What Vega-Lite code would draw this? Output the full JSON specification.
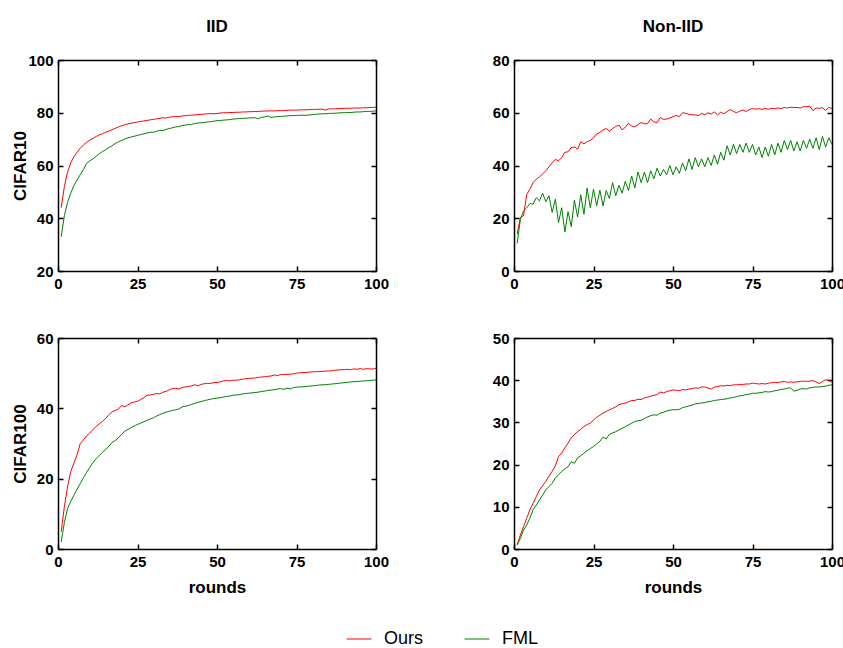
{
"$schema":"https://vega.github.io/schema/vega-lite/v6.json",
"padding":{"left":11,"top":18,"right":5,"bottom":5},
"data":{"values":[
{"r":1,"ao":44,"af":33,"bo":14,"bf":10.5,"co":4.9,"cf":2,"do":1,"df":1},
{"r":2,"ao":52,"af":41,"bo":20.3,"bf":19.6,"co":12,"cf":7.5,"do":3.3,"df":2.5},
{"r":3,"ao":57.5,"af":46,"bo":21,"bf":22.8,"co":17.7,"cf":11.5,"do":5.3,"df":4.5},
{"r":4,"ao":61,"af":49.5,"bo":29,"bf":24,"co":22,"cf":13.5,"do":7.3,"df":5.7},
{"r":5,"ao":63.3,"af":52.5,"bo":31,"bf":25.6,"co":24.4,"cf":15.3,"do":9.3,"df":7.3},
{"r":6,"ao":65,"af":54.5,"bo":33.5,"bf":25.3,"co":26.8,"cf":17,"do":10.8,"df":9.3},
{"r":7,"ao":66.5,"af":56.5,"bo":34.8,"bf":27.8,"co":30,"cf":18.6,"do":12.4,"df":10.4},
{"r":8,"ao":67.8,"af":58.5,"bo":35.7,"bf":26.6,"co":31,"cf":20.3,"do":14,"df":11.6},
{"r":9,"ao":68.8,"af":60.8,"bo":36.8,"bf":29.5,"co":32.2,"cf":21.8,"do":15,"df":12.8},
{"r":10,"ao":69.6,"af":61.8,"bo":38,"bf":26.3,"co":33,"cf":23.2,"do":16,"df":14},
{"r":11,"ao":70.3,"af":62.5,"bo":39.5,"bf":28.5,"co":34,"cf":24.6,"do":17.3,"df":14.8},
{"r":12,"ao":71,"af":63.5,"bo":41,"bf":22.2,"co":34.8,"cf":25.7,"do":18.4,"df":15.6},
{"r":13,"ao":71.6,"af":64.5,"bo":42.3,"bf":27.2,"co":35.6,"cf":26.6,"do":19.7,"df":16.8},
{"r":14,"ao":72.1,"af":65.3,"bo":41.8,"bf":18.4,"co":36.3,"cf":27.5,"do":21.9,"df":17.6},
{"r":15,"ao":72.6,"af":66,"bo":43,"bf":24,"co":37.1,"cf":28.3,"do":22.7,"df":18.4},
{"r":16,"ao":73.1,"af":66.8,"bo":45,"bf":14.8,"co":38.2,"cf":29.2,"do":24,"df":19},
{"r":17,"ao":73.6,"af":67.5,"bo":45.2,"bf":22.5,"co":39,"cf":30.3,"do":25.1,"df":19.5},
{"r":18,"ao":74.1,"af":68.3,"bo":46.8,"bf":16.8,"co":39.4,"cf":30.8,"do":26.3,"df":20.7},
{"r":19,"ao":74.6,"af":69,"bo":47,"bf":26.8,"co":39.8,"cf":31.6,"do":27.1,"df":20.3},
{"r":20,"ao":75.1,"af":69.5,"bo":46.2,"bf":20.5,"co":40.8,"cf":32.6,"do":27.8,"df":21.6},
{"r":21,"ao":75.4,"af":70,"bo":49,"bf":28.9,"co":40.4,"cf":33.5,"do":28.4,"df":22.1},
{"r":22,"ao":75.8,"af":70.5,"bo":48.2,"bf":21.5,"co":41,"cf":34,"do":29,"df":22.7},
{"r":23,"ao":76,"af":70.8,"bo":49,"bf":31.4,"co":41.6,"cf":34.5,"do":29.5,"df":23.3},
{"r":24,"ao":76.3,"af":71.1,"bo":49.5,"bf":24,"co":41.8,"cf":35,"do":29.8,"df":23.8},
{"r":25,"ao":76.5,"af":71.4,"bo":50.5,"bf":31,"co":42,"cf":35.4,"do":30.6,"df":24.3},
{"r":26,"ao":76.7,"af":71.7,"bo":52,"bf":24.7,"co":42.5,"cf":35.8,"do":31.2,"df":24.9},
{"r":27,"ao":76.9,"af":72,"bo":52.5,"bf":30.6,"co":43,"cf":36.2,"do":31.7,"df":25.5},
{"r":28,"ao":77.1,"af":72.3,"bo":53.5,"bf":24.7,"co":43.7,"cf":36.6,"do":32.2,"df":26.5},
{"r":29,"ao":77.3,"af":72.6,"bo":54,"bf":30.5,"co":43.8,"cf":37,"do":32.6,"df":26.1},
{"r":30,"ao":77.5,"af":72.6,"bo":53,"bf":27.5,"co":44,"cf":37.3,"do":33,"df":27.2},
{"r":31,"ao":77.7,"af":73,"bo":54,"bf":33.5,"co":44.2,"cf":37.8,"do":33.3,"df":27.5},
{"r":32,"ao":77.9,"af":73.3,"bo":54.8,"bf":28.5,"co":44.1,"cf":38.2,"do":33.7,"df":27.8},
{"r":33,"ao":78.1,"af":73.2,"bo":55.3,"bf":32.5,"co":44.6,"cf":38.6,"do":34.2,"df":28.2},
{"r":34,"ao":78,"af":73.7,"bo":53.5,"bf":29.5,"co":44.8,"cf":38.9,"do":34.4,"df":28.6},
{"r":35,"ao":78.3,"af":74,"bo":54.5,"bf":34,"co":45.3,"cf":39.2,"do":34.6,"df":29},
{"r":36,"ao":78.5,"af":74.3,"bo":56,"bf":30.5,"co":45.6,"cf":39.4,"do":34.9,"df":29.4},
{"r":37,"ao":78.6,"af":74.6,"bo":55,"bf":36,"co":45.7,"cf":39.6,"do":35.2,"df":29.8},
{"r":38,"ao":78.5,"af":74.8,"bo":54.7,"bf":31.5,"co":45.5,"cf":39.8,"do":35.2,"df":30.2},
{"r":39,"ao":78.8,"af":75.1,"bo":55.5,"bf":37.5,"co":45.9,"cf":40.4,"do":35.5,"df":30.4},
{"r":40,"ao":78.9,"af":75.3,"bo":56.3,"bf":33.5,"co":46.1,"cf":40.6,"do":35.4,"df":30.5},
{"r":41,"ao":79,"af":75.5,"bo":55.8,"bf":37.5,"co":46.2,"cf":40.8,"do":35.8,"df":30.9},
{"r":42,"ao":79.1,"af":75.6,"bo":55.9,"bf":33.5,"co":46.4,"cf":41.1,"do":36,"df":31.3},
{"r":43,"ao":79.2,"af":75.9,"bo":57.6,"bf":38,"co":46.7,"cf":41.4,"do":36.2,"df":31.6},
{"r":44,"ao":79.3,"af":76.1,"bo":56.5,"bf":35,"co":46.4,"cf":41.7,"do":36.4,"df":31.8},
{"r":45,"ao":79.4,"af":76.2,"bo":56.3,"bf":39,"co":46.8,"cf":41.9,"do":36.6,"df":31.7},
{"r":46,"ao":79.5,"af":76.3,"bo":58.2,"bf":36,"co":47,"cf":42.2,"do":37.2,"df":32.2},
{"r":47,"ao":79.6,"af":76.5,"bo":57.5,"bf":38.5,"co":47.1,"cf":42.4,"do":37,"df":32.4},
{"r":48,"ao":79.7,"af":76.6,"bo":57.6,"bf":36.5,"co":47.1,"cf":42.6,"do":37.3,"df":32.7},
{"r":49,"ao":79.6,"af":76.8,"bo":58,"bf":40,"co":47.3,"cf":42.8,"do":37.5,"df":32.9},
{"r":50,"ao":79.7,"af":77,"bo":58.5,"bf":36.5,"co":47.4,"cf":42.9,"do":37.7,"df":33},
{"r":51,"ao":79.9,"af":77,"bo":59,"bf":39.5,"co":47.5,"cf":43,"do":37.6,"df":33},
{"r":52,"ao":80,"af":77.2,"bo":58.5,"bf":37,"co":47.8,"cf":43.2,"do":37.5,"df":33.1},
{"r":53,"ao":80,"af":77.3,"bo":60,"bf":41,"co":47.9,"cf":43.4,"do":37.8,"df":33.5},
{"r":54,"ao":80.1,"af":77.4,"bo":59.8,"bf":38,"co":47.8,"cf":43.5,"do":37.7,"df":33.7},
{"r":55,"ao":80.1,"af":77.6,"bo":59.4,"bf":42.5,"co":48,"cf":43.7,"do":37.9,"df":33.9},
{"r":56,"ao":80.2,"af":77.7,"bo":59.2,"bf":38.5,"co":48,"cf":43.8,"do":38,"df":34.1},
{"r":57,"ao":80.2,"af":77.8,"bo":59.2,"bf":43,"co":48.1,"cf":43.9,"do":38.2,"df":34.4},
{"r":58,"ao":80.3,"af":77.9,"bo":58.9,"bf":39.5,"co":48.3,"cf":44.1,"do":38.1,"df":34.5},
{"r":59,"ao":80.3,"af":77.9,"bo":59.8,"bf":42.5,"co":48.4,"cf":44.2,"do":38.4,"df":34.6},
{"r":60,"ao":80.4,"af":78,"bo":59.2,"bf":39.5,"co":48.5,"cf":44.3,"do":38.4,"df":34.7},
{"r":61,"ao":80.4,"af":78.1,"bo":60,"bf":43,"co":48.6,"cf":44.4,"do":38.1,"df":34.9},
{"r":62,"ao":80.5,"af":78.1,"bo":59.5,"bf":40,"co":48.6,"cf":44.5,"do":37.9,"df":35},
{"r":63,"ao":80.5,"af":77.7,"bo":60.3,"bf":44,"co":48.8,"cf":44.6,"do":38.4,"df":35.2},
{"r":64,"ao":80.6,"af":78.3,"bo":59.2,"bf":40.5,"co":48.9,"cf":44.8,"do":38.5,"df":35.3},
{"r":65,"ao":80.6,"af":78.4,"bo":60.2,"bf":45,"co":49,"cf":44.9,"do":38.7,"df":35.4},
{"r":66,"ao":80.7,"af":78.8,"bo":59.6,"bf":42,"co":49.1,"cf":45.1,"do":38.6,"df":35.5},
{"r":67,"ao":80.7,"af":78.2,"bo":60.4,"bf":47.5,"co":49.2,"cf":45.2,"do":38.8,"df":35.6},
{"r":68,"ao":80.7,"af":78.4,"bo":61.2,"bf":44,"co":49.5,"cf":45.3,"do":38.7,"df":35.8},
{"r":69,"ao":80.8,"af":78.6,"bo":60.5,"bf":48,"co":49.3,"cf":45.5,"do":38.9,"df":35.9},
{"r":70,"ao":80.8,"af":78.6,"bo":60,"bf":44.5,"co":49.6,"cf":45.6,"do":38.9,"df":36.1},
{"r":71,"ao":80.8,"af":78.7,"bo":60.6,"bf":48,"co":49.6,"cf":45.4,"do":39,"df":36.3},
{"r":72,"ao":80.9,"af":78.8,"bo":61,"bf":45,"co":49.7,"cf":45.7,"do":39,"df":36.4},
{"r":73,"ao":81,"af":78.9,"bo":60.5,"bf":48.5,"co":49.7,"cf":45.5,"do":39.1,"df":36.6},
{"r":74,"ao":81,"af":78.9,"bo":61.2,"bf":45,"co":49.8,"cf":45.9,"do":39.1,"df":36.7},
{"r":75,"ao":81,"af":79,"bo":61.6,"bf":48,"co":50,"cf":46,"do":39.3,"df":36.9},
{"r":76,"ao":81.1,"af":79,"bo":61.4,"bf":44,"co":50.1,"cf":46.1,"do":39.2,"df":36.9},
{"r":77,"ao":81.1,"af":79.1,"bo":61.5,"bf":47,"co":50.2,"cf":46.1,"do":39.1,"df":37},
{"r":78,"ao":81.1,"af":79,"bo":61.3,"bf":43,"co":50.2,"cf":46.2,"do":39.2,"df":37.1},
{"r":79,"ao":81.2,"af":79.2,"bo":61.6,"bf":47,"co":50.3,"cf":46.3,"do":39.1,"df":37.3},
{"r":80,"ao":81.2,"af":79.3,"bo":61.3,"bf":43.5,"co":50.4,"cf":46.4,"do":39.3,"df":37.2},
{"r":81,"ao":81.3,"af":79.4,"bo":61.7,"bf":48,"co":50.4,"cf":46.5,"do":39.4,"df":37.3},
{"r":82,"ao":81.3,"af":79.5,"bo":61.5,"bf":44,"co":50.5,"cf":46.6,"do":39.5,"df":37.5},
{"r":83,"ao":81.4,"af":79.6,"bo":61.8,"bf":48.5,"co":50.5,"cf":46.7,"do":39.4,"df":37.6},
{"r":84,"ao":81,"af":79.6,"bo":61.6,"bf":45,"co":50.6,"cf":46.7,"do":39.6,"df":37.8},
{"r":85,"ao":81.4,"af":79.7,"bo":62,"bf":49.5,"co":50.6,"cf":46.8,"do":39.7,"df":37.9},
{"r":86,"ao":81.5,"af":79.8,"bo":61.8,"bf":46,"co":50.7,"cf":46.9,"do":39.5,"df":38.1},
{"r":87,"ao":81.5,"af":79.8,"bo":62.1,"bf":49.5,"co":50.8,"cf":47,"do":39.6,"df":38.2},
{"r":88,"ao":81.6,"af":79.9,"bo":62,"bf":45.5,"co":50.9,"cf":47.1,"do":39.5,"df":37.4},
{"r":89,"ao":81.6,"af":80,"bo":62,"bf":49,"co":51,"cf":47.2,"do":39.6,"df":37.6},
{"r":90,"ao":81.7,"af":80,"bo":61.8,"bf":45.5,"co":51,"cf":47.3,"do":39.7,"df":37.9},
{"r":91,"ao":81.7,"af":80.1,"bo":62.3,"bf":49.5,"co":51.1,"cf":47.4,"do":39.8,"df":38},
{"r":92,"ao":81.7,"af":80.1,"bo":62.3,"bf":46.5,"co":51,"cf":47.5,"do":39.7,"df":37.9},
{"r":93,"ao":81.8,"af":80.2,"bo":62.5,"bf":50,"co":51.2,"cf":47.6,"do":39.8,"df":38.2},
{"r":94,"ao":81.8,"af":80.3,"bo":60.8,"bf":46.5,"co":51.1,"cf":47.6,"do":39.9,"df":38.3},
{"r":95,"ao":81.8,"af":80.3,"bo":61.8,"bf":50.5,"co":51.3,"cf":47.7,"do":39.6,"df":38.4},
{"r":96,"ao":81.9,"af":80.4,"bo":61.7,"bf":46,"co":51.1,"cf":47.8,"do":39.2,"df":38.4},
{"r":97,"ao":81.9,"af":80.5,"bo":61.9,"bf":51,"co":51.3,"cf":47.8,"do":39.7,"df":38.5},
{"r":98,"ao":82,"af":80.5,"bo":60.9,"bf":47,"co":51.2,"cf":47.9,"do":40.1,"df":38.6},
{"r":99,"ao":82,"af":80.6,"bo":62,"bf":50.5,"co":51.2,"cf":48,"do":40,"df":38.8},
{"r":100,"ao":82.1,"af":80.7,"bo":61.6,"bf":48,"co":51.3,"cf":48.1,"do":39.5,"df":38.9}
]},
"columns":2,
"spacing":{"row":67,"column":138},
"bounds":"flush",
"concat":[
{"width":318,"height":211,"title":"IID",
"layer":[
{"mark":{"type":"line","strokeWidth":1},"encoding":{
"x":{"field":"r","type":"quantitative","scale":{"domain":[0,100]},"axis":{"orient":"bottom","values":[0,25,50,75,100],"title":null}},
"y":{"field":"ao","type":"quantitative","scale":{"domain":[20,100]},"axis":{"orient":"left","values":[20,40,60,80,100],"title":"CIFAR10","titleX":-29,"titleY":105.5}},
"color":{"datum":"Ours","type":"nominal","scale":{"domain":["Ours","FML"],"range":["#ff0000","#008000"]},"legend":{"orient":"none","legendX":288,"legendY":566,"direction":"horizontal","title":null}}}},
{"mark":{"type":"line","strokeWidth":1},"encoding":{
"x":{"field":"r","type":"quantitative","axis":null},
"y":{"field":"af","type":"quantitative","axis":null},
"color":{"datum":"FML","type":"nominal"}}},
{"mark":{"type":"line","opacity":0},"encoding":{
"x":{"field":"r","type":"quantitative","axis":{"orient":"top","values":[0,25,50,75,100],"labels":false,"title":null}},
"y":{"field":"ao","type":"quantitative","axis":{"orient":"right","values":[20,40,60,80,100],"labels":false,"title":null}}}}
],
"resolve":{"axis":{"x":"independent","y":"independent"}}},
{"width":318,"height":211,"title":"Non-IID",
"layer":[
{"mark":{"type":"line","strokeWidth":1},"encoding":{
"x":{"field":"r","type":"quantitative","scale":{"domain":[0,100]},"axis":{"orient":"bottom","values":[0,25,50,75,100],"title":null}},
"y":{"field":"bo","type":"quantitative","scale":{"domain":[0,80]},"axis":{"orient":"left","values":[0,20,40,60,80],"title":null}},
"color":{"datum":"Ours","type":"nominal"}}},
{"mark":{"type":"line","strokeWidth":1},"encoding":{
"x":{"field":"r","type":"quantitative","axis":null},
"y":{"field":"bf","type":"quantitative","axis":null},
"color":{"datum":"FML","type":"nominal"}}},
{"mark":{"type":"line","opacity":0},"encoding":{
"x":{"field":"r","type":"quantitative","axis":{"orient":"top","values":[0,25,50,75,100],"labels":false,"title":null}},
"y":{"field":"bo","type":"quantitative","axis":{"orient":"right","values":[0,20,40,60,80],"labels":false,"title":null}}}}
],
"resolve":{"axis":{"x":"independent","y":"independent"}}},
{"width":318,"height":211,
"layer":[
{"mark":{"type":"line","strokeWidth":1},"encoding":{
"x":{"field":"r","type":"quantitative","scale":{"domain":[0,100]},"axis":{"orient":"bottom","values":[0,25,50,75,100],"title":"rounds"}},
"y":{"field":"co","type":"quantitative","scale":{"domain":[0,60]},"axis":{"orient":"left","values":[0,20,40,60],"title":"CIFAR100","titleX":-29,"titleY":105.5}},
"color":{"datum":"Ours","type":"nominal"}}},
{"mark":{"type":"line","strokeWidth":1},"encoding":{
"x":{"field":"r","type":"quantitative","axis":null},
"y":{"field":"cf","type":"quantitative","axis":null},
"color":{"datum":"FML","type":"nominal"}}},
{"mark":{"type":"line","opacity":0},"encoding":{
"x":{"field":"r","type":"quantitative","axis":{"orient":"top","values":[0,25,50,75,100],"labels":false,"title":null}},
"y":{"field":"co","type":"quantitative","axis":{"orient":"right","values":[0,20,40,60],"labels":false,"title":null}}}}
],
"resolve":{"axis":{"x":"independent","y":"independent"}}},
{"width":318,"height":211,
"layer":[
{"mark":{"type":"line","strokeWidth":1},"encoding":{
"x":{"field":"r","type":"quantitative","scale":{"domain":[0,100]},"axis":{"orient":"bottom","values":[0,25,50,75,100],"title":"rounds"}},
"y":{"field":"do","type":"quantitative","scale":{"domain":[0,50]},"axis":{"orient":"left","values":[0,10,20,30,40,50],"title":null}},
"color":{"datum":"Ours","type":"nominal"}}},
{"mark":{"type":"line","strokeWidth":1},"encoding":{
"x":{"field":"r","type":"quantitative","axis":null},
"y":{"field":"df","type":"quantitative","axis":null},
"color":{"datum":"FML","type":"nominal"}}},
{"mark":{"type":"line","opacity":0},"encoding":{
"x":{"field":"r","type":"quantitative","axis":{"orient":"top","values":[0,25,50,75,100],"labels":false,"title":null}},
"y":{"field":"do","type":"quantitative","axis":{"orient":"right","values":[0,10,20,30,40,50],"labels":false,"title":null}}}}
],
"resolve":{"axis":{"x":"independent","y":"independent"}}}
],
"config":{
"font":"Liberation Sans",
"view":{"stroke":null},
"axis":{"domainColor":"black","domainWidth":1.5,"tickColor":"black","tickWidth":1.5,"tickSize":-5,"labelPadding":10,"labelFont":"Liberation Sans","labelFontSize":15,"labelFontWeight":"bold","labelColor":"black","labelFlush":false,"labelOverlap":false,"titleFont":"Liberation Sans","titleFontSize":17,"titleFontWeight":"bold","titleColor":"black","titlePadding":4,"grid":false},
"axisX":{"titlePadding":10},
"title":{"font":"Liberation Sans","fontSize":17,"fontWeight":"bold","color":"black","offset":17},
"legend":{"symbolType":"stroke","symbolSize":625,"symbolStrokeWidth":1,"labelFont":"Liberation Sans","labelFontSize":18,"labelColor":"black","columnPadding":38,"labelOffset":12}
}
}
